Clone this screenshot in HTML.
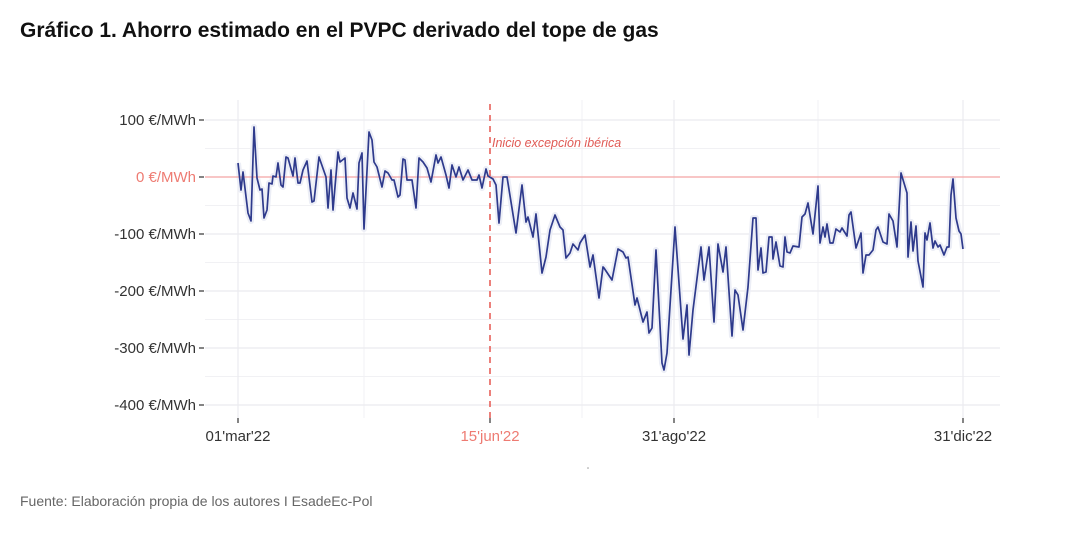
<!DOCTYPE html><html><head><meta charset="utf-8"><style>body{margin:0;background:#fff;font-family:"Liberation Sans",sans-serif}</style></head><body>
<svg width="1080" height="530" xmlns="http://www.w3.org/2000/svg" xmlns:xlink="http://www.w3.org/1999/xlink" font-family="Liberation Sans, sans-serif">
<defs>
<polyline id="p" fill="none" stroke-linejoin="round" points="238,163 241,190 243,172 248,213 251,221 254,127 257,178 260,190 262,189 264,218 267,210 269,183 272,184 273,176 276,177 278,163 281,185 283,187 286,157 288,158 293,176 295,158 298,183 300,183 303,170 307,161 312,202 314,201 319,157 326,177 328,208 331,170 333,210 338,152 340,162 345,158 347,198 350,208 353,193 357,209 359,163 362,153 364,229 369,132 372,140 374,162 377,167 382,187 385,171 388,173 392,180 394,180 398,197 400,195 403,159 405,160 407,180 412,180 416,208 419,158 423,162 427,168 431,182 436,155 438,163 441,157 446,175 449,188 452,165 456,177 459,167 463,180 468,170 472,180 477,180 479,175 482,188 486,169 488,176 493,179 496,185 499,223 503,177 507,177 516,233 522,185 526,222 528,217 533,237 536,214 539,243 542,273 546,257 550,230 555,215 560,227 563,230 566,258 570,253 573,244 578,250 580,243 585,235 590,267 593,255 599,298 603,267 604,268 612,280 618,249 623,252 626,258 628,257 635,305 637,298 643,322 647,312 649,333 652,328 656,250 662,363 664,370 667,353 675,227 683,339 687,305 689,355 693,310 701,247 704,280 709,247 714,322 718,244 723,272 726,247 732,336 735,290 738,295 743,330 748,287 753,218 756,218 758,270 761,248 763,273 766,272 769,237 772,237 773,259 776,242 780,266 783,267 785,237 787,252 790,253 793,246 799,247 802,217 805,214 808,203 813,234 818,186 820,243 823,227 825,237 827,224 830,243 833,243 836,229 840,232 842,228 847,236 849,215 851,212 856,248 861,233 863,273 866,255 869,255 873,250 876,230 878,227 883,242 887,244 889,214 893,221 897,247 901,173 907,193 908,257 911,222 913,251 916,226 918,261 923,287 925,233 927,240 930,223 933,248 935,241 938,247 940,245 944,255 947,247 949,247 951,195 953,179 956,218 959,231 961,234 963,249"/>
</defs>
<rect width="1080" height="530" fill="#fff"/>
<text x="20" y="37" font-size="21" font-weight="bold" fill="#111">Gráfico 1. Ahorro estimado en el PVPC derivado del tope de gas</text>
<g stroke="#f1f1f4" stroke-width="1">
<line x1="205" x2="1000" y1="148.5" y2="148.5"/><line x1="205" x2="1000" y1="205.5" y2="205.5"/><line x1="205" x2="1000" y1="262.5" y2="262.5"/><line x1="205" x2="1000" y1="319.5" y2="319.5"/><line x1="205" x2="1000" y1="376.5" y2="376.5"/>
<line x1="364" x2="364" y1="100" y2="418"/><line x1="582" x2="582" y1="100" y2="418"/><line x1="818" x2="818" y1="100" y2="418"/>
</g>
<g stroke="#ebebef" stroke-width="1.2">
<line x1="205" x2="1000" y1="120" y2="120"/><line x1="205" x2="1000" y1="234" y2="234"/><line x1="205" x2="1000" y1="291" y2="291"/><line x1="205" x2="1000" y1="348" y2="348"/><line x1="205" x2="1000" y1="405" y2="405"/>
<line x1="238" x2="238" y1="100" y2="418"/><line x1="674" x2="674" y1="100" y2="418"/><line x1="963" x2="963" y1="100" y2="418"/>
</g>
<use xlink:href="#p" href="#p" stroke="#eceef6" stroke-width="6"/>
<line x1="205" x2="1000" y1="177" y2="177" stroke="#f4a5a5" stroke-width="1.3"/>
<line x1="490" x2="490" y1="104" y2="420" stroke="#e8605a" stroke-width="1.6" stroke-dasharray="6,5"/>
<text x="492" y="147" font-size="12.5" font-style="italic" fill="#e05a55">Inicio excepción ibérica</text>
<use xlink:href="#p" href="#p" stroke="#2e3a8c" stroke-width="1.7"/>
<g font-size="15" fill="#333" text-anchor="end">
<text x="196" y="125">100 €/MWh</text><text x="196" y="182" fill="#ee7b72">0 €/MWh</text><text x="196" y="239">-100 €/MWh</text><text x="196" y="296">-200 €/MWh</text><text x="196" y="353">-300 €/MWh</text><text x="196" y="410">-400 €/MWh</text>
</g>
<g stroke="#333" stroke-width="1.2"><line x1="199" x2="204" y1="120" y2="120"/><line x1="199" x2="204" y1="177" y2="177"/><line x1="199" x2="204" y1="234" y2="234"/><line x1="199" x2="204" y1="291" y2="291"/><line x1="199" x2="204" y1="348" y2="348"/><line x1="199" x2="204" y1="405" y2="405"/>
<line x1="238" x2="238" y1="418" y2="423"/><line x1="490" x2="490" y1="418" y2="423"/><line x1="674" x2="674" y1="418" y2="423"/><line x1="963" x2="963" y1="418" y2="423"/></g>
<g font-size="15" fill="#333" text-anchor="middle">
<text x="238" y="441">01'mar'22</text><text x="490" y="441" fill="#ee7b72">15'jun'22</text><text x="674" y="441">31'ago'22</text><text x="963" y="441">31'dic'22</text>
</g>
<circle cx="588" cy="468" r="0.8" fill="#999"/>
<text x="20" y="506" font-size="14" fill="#666">Fuente: Elaboración propia de los autores I EsadeEc-Pol</text>
</svg></body></html>
